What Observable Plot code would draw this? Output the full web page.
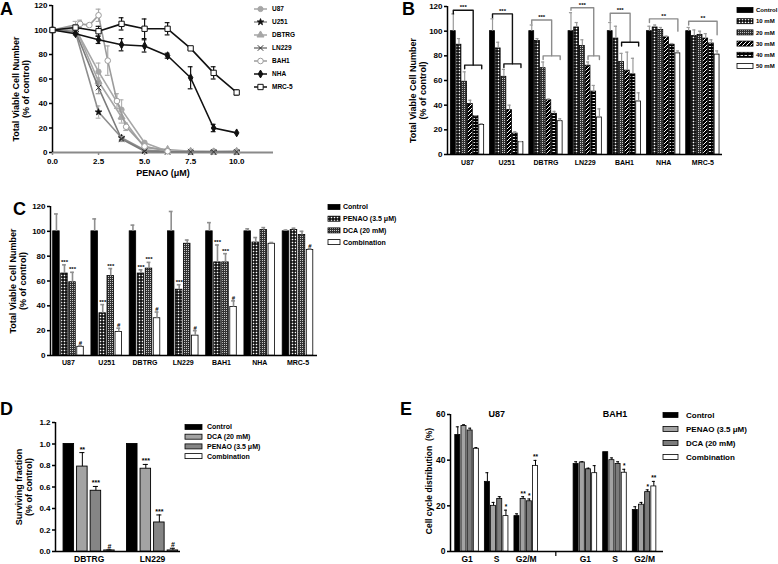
<!DOCTYPE html>
<html><head><meta charset="utf-8">
<script src="https://cdn.jsdelivr.net/npm/d3@7"></script>
<script src="https://cdn.jsdelivr.net/npm/@observablehq/plot@0.6"></script>
<style>
body{margin:0;background:#fff;}
#fig{position:relative;width:778px;height:564px;font-family:"Liberation Sans",Arial,sans-serif;overflow:hidden;background:#fff;}
</style></head><body><div id="fig"></div>
<script>
// ---------------- DATA ----------------
// Panel A
const seriesA = ["U87","U251","DBTRG","LN229","BAH1","NHA","MRC-5"];
const doseA = [0, 1.25, 2.5, 3.75, 5, 6.25, 7.5, 8.75, 10];
const doseBAH1 = [0, 1.5, 2, 2.5, 3, 3.5, 4, 5, 6.25];
const aU87 = [100, 101, 66, 35, 8, 1, 1, 1, 1];
const aU87Err = [0, 3, 7, 8, 1, 0, 0, 0, 0];
const aU251 = [100, 98, 33, 12, 2, 1, 0.5, 0.5, 0.5];
const aU251Err = [0, 2, 5, 2, 0, 0, 0, 0, 0];
const aDBTRG = [100, 102, 58, 29, 4, 2.5, 1, 0.5, 1];
const aDBTRGErr = [0, 5, 3, 5, 1, 0.5, 0, 0, 0];
const aLN229 = [100, 99, 53, 11, 1, 0.5, 0.5, 0.5, 0.5];
const aLN229Err = [0, 2, 5, 2, 0, 0, 0, 0, 0];
const aBAH1 = [100, 105, 104, 112, 75, 42, 21, 5, 1];
const aBAH1Err = [0, 3, 1, 5, 12, 6, 3, 0, 0];
const aNHA = [100, 97, 92, 88, 87, 79, 61, 20, 16];
const aNHAErr = [0, 0, 3, 5, 5, 2, 9, 3, 0];
const aMRC5 = [100, 102, 99, 105, 101, 101, 85, 65, 49];
const aMRC5Err = [0, 0, 4, 5, 8, 5, 1, 5, 2];
const ticksAx = [0, 2.5, 5, 7.5, 10];
const ticksAy = [0, 20, 40, 60, 80, 100, 120];

// Panel B
const cellsB = ["U87","U251","DBTRG","LN229","BAH1","NHA","MRC-5"];
const dosesB = ["Control","10 mM","20 mM","30 mM","40 mM","50 mM"];
const meanB = [
  [100, 89, 59, 41, 31, 24],
  [100, 86, 63, 36, 17, 10],
  [100, 92, 70, 44, 33, 27],
  [100, 103, 88, 72, 51, 30],
  [100, 94, 75, 68, 65, 43],
  [100, 103, 101, 95, 89, 82],
  [100, 96, 97, 94, 90, 81]];
const errB = [
  [14, 5, 8, 3, 0.5, 1],
  [10, 5, 6, 4, 1.5, 0.5],
  [5, 2, 5, 1, 2, 2],
  [15, 4, 5, 3, 5, 7],
  [7, 10, 7, 15, 13, 7],
  [4, 2, 2, 1, 1, 2],
  [3, 5, 3, 4, 3, 3]];
// nested significance brackets (cell index, heights in % units, positions in dose index)
const brCellB = [0, 1, 2, 3, 4];
const brTopB = [117, 114, 109, 119, 114.5];
const brTopDropB = [114, 111, 106, 117, 108];
const brMidB = [3.5, 3.5, 3.5, 4, 3.5];
const brLowB = [72.5, 73.5, 80, 80, 91];
const brLowFromB = [2, 2, 2, 3, 2];
const brLowToB = [5, 5, 5, 5, 5];
const brLabelB = ["***", "***", "***", "***", "***"];
// simple brackets
const sbCellB = [5, 6];
const sbTopB = [110, 108];
const sbLeftB = [107, 105];
const sbRightB = [100, 97];
const sbLabelB = ["**", "**"];

// Panel C
const cellsC = ["U87","U251","DBTRG","LN229","BAH1","NHA","MRC-5"];
const treatC = ["Control","PENAO (3.5 \u03bcM)","DCA (20 mM)","Combination"];
const meanC = [
  [100, 66, 59, 7],
  [100, 34, 64, 19],
  [100, 66, 70, 30],
  [100, 53, 90, 16],
  [100, 75, 75, 39],
  [100, 91, 101, 90],
  [100, 101, 97, 85]];
const errC = [
  [14, 7, 8, 1],
  [10, 7, 6, 3],
  [5, 3, 5, 5],
  [16, 4, 3, 4],
  [7, 14, 7, 5],
  [2, 4, 2, 1],
  [1, 1.5, 3, 1]];
const sigC = [
  ["", "***", "***", "#"],
  ["", "***", "***", "#"],
  ["", "***", "***", "#"],
  ["", "***", "", "#"],
  ["", "***", "***", "#"],
  ["", "", "", ""],
  ["", "", "", "#"]];

// Panel D
const cellsD = ["DBTRG","LN229"];
const treatD = ["Control","DCA (20 mM)","PENAO (3.5 \u03bcM)","Combination"];
const meanD = [[1.0, 0.79, 0.565, 0.01], [1.0, 0.77, 0.27, 0.01]];
const errD = [[0, 0.13, 0.04, 0.005], [0, 0.04, 0.07, 0.02]];
const sigD = [["", "**", "***", "#"], ["", "***", "***", "#"]];
const ticksDy = [0, 0.2, 0.4, 0.6, 0.8, 1.0, 1.2];

// Panel E
const linesE = ["U87","BAH1"];
const phasesE = ["G1","S","G2/M","G1","S","G2/M"];
const slotE = [0, 1, 2, 4, 5, 6];
const titleSlotE = [1, 5];
const treatE = ["Control","PENAO (3.5 \u03bcM)","DCA (20 mM)","Combination"];
const meanE = [
  [51, 55, 53, 45],
  [30.5, 20, 23, 15.5],
  [15.5, 23, 22, 37.5],
  [38.3, 39, 36, 34.3],
  [43.5, 40, 38.3, 34.5],
  [18.2, 20.5, 26, 28.5]];
const errE = [
  [3.6, 0.5, 1, 0.5],
  [4, 1.5, 1, 2.6],
  [1, 1, 1, 2.4],
  [1, 0.3, 0.5, 3.3],
  [0, 1, 1, 1.5],
  [1.4, 1, 1, 2.2]];
const sigE = [
  ["", "", "", ""],
  ["", "", "", "*"],
  ["", "**", "*", "**"],
  ["", "", "", ""],
  ["", "", "", "*"],
  ["", "", "*", "**"]];

// ---------------- STYLES ----------------
const FONT = "'Liberation Sans', Arial, sans-serif";
const baseStyle = {fontFamily: FONT, fontWeight: "bold", fontSize: "8px", overflow: "visible", background: "transparent", color: "black"};
const styleA = {
  "U87":   {stroke: "#a6a6a6", symbol: "circle",   fill: "#a6a6a6", mstroke: "#a6a6a6", err: "#b3b3b3", r: 2.6},
  "U251":  {stroke: "#8e8e8e", symbol: "star",     fill: "#111",    mstroke: "#111",    err: "#b3b3b3", r: 2.0},
  "DBTRG": {stroke: "#a6a6a6", symbol: "triangle", fill: "#a6a6a6", mstroke: "#a6a6a6", err: "#b3b3b3", r: 2.6},
  "LN229": {stroke: "#7c7c7c", symbol: "times",    fill: "none",    mstroke: "#333",    err: "#999",    r: 2.6},
  "BAH1":  {stroke: "#9c9c9c", symbol: "circle",   fill: "white",   mstroke: "#9c9c9c", err: "#aaa",    r: 2.8},
  "NHA":   {stroke: "#111",    symbol: "diamond",  fill: "#111",    mstroke: "#111",    err: "#111",    r: 2.4},
  "MRC-5": {stroke: "#111",    symbol: "square",   fill: "white",   mstroke: "#111",    err: "#111",    r: 3}
};
const fillB = ["#000", "url(#pChk)", "url(#pStip)", "url(#pDiag)", "url(#pDash)", "#fff"];
const fillC = ["#000", "url(#pChk)", "url(#pStip)", "#fff"];
const fillD = ["#000", "#a3a3a3", "#858585", "#fff"];
const fillE = ["#000", "#a3a3a3", "#7c7c7c", "#fff"];

const fig = document.getElementById("fig");
fig.insertAdjacentHTML("beforeend", `<svg width="0" height="0" style="position:absolute"><defs>
<pattern id="pChk" width="3" height="3" patternUnits="userSpaceOnUse"><rect width="3" height="3" fill="#000"/><rect x="0.7" y="0.7" width="1.6" height="1.6" fill="#fff"/></pattern>
<pattern id="pStip" width="2" height="2" patternUnits="userSpaceOnUse"><rect width="2" height="2" fill="#333"/><rect width="1" height="1" fill="#c8c8c8"/></pattern>
<pattern id="pDiag" width="4" height="4" patternUnits="userSpaceOnUse"><rect width="4" height="4" fill="#000"/><path d="M0,4 L4,0 M-1,1 L1,-1 M3,5 L5,3" stroke="#fff" stroke-width="1"/></pattern>
<pattern id="pDash" width="4" height="3" patternUnits="userSpaceOnUse"><rect width="4" height="3" fill="#000"/><rect x="0.5" y="1" width="2.6" height="0.9" fill="#fff"/></pattern>
</defs></svg>`);

function place(el, left, top) {
  el.style.position = "absolute"; el.style.left = left + "px"; el.style.top = top + "px";
  fig.appendChild(el);
}
function yLabel(text, dx, dy, fs) {
  return Plot.text([text], {frameAnchor: "left", rotate: -90, dx, dy, textAnchor: "middle", lineAnchor: "middle", fontSize: fs, fontWeight: "bold", lineHeight: 1.2});
}
function barErr(data, xf, half, stroke, sw) {
  const d = data.filter(r => r.e > 0);
  return [
    Plot.ruleX(d, {x: xf, y1: r => r.v, y2: r => r.v + r.e, stroke, strokeWidth: sw}),
    Plot.ruleY(d, {y: r => r.v + r.e, x1: r => xf(r) - half, x2: r => xf(r) + half, stroke, strokeWidth: sw})
  ];
}

// ---------------- PANEL A ----------------
const xsA = {"U87": doseA, "U251": doseA, "DBTRG": doseA, "LN229": doseA, "BAH1": doseBAH1, "NHA": doseA, "MRC-5": doseA};
const ysA = {"U87": aU87, "U251": aU251, "DBTRG": aDBTRG, "LN229": aLN229, "BAH1": aBAH1, "NHA": aNHA, "MRC-5": aMRC5};
const esA = {"U87": aU87Err, "U251": aU251Err, "DBTRG": aDBTRGErr, "LN229": aLN229Err, "BAH1": aBAH1Err, "NHA": aNHAErr, "MRC-5": aMRC5Err};
const marksA = [
  Plot.ruleY([0], {stroke: "#8a8a8a", strokeWidth: 2}),
  Plot.ruleX([0], {y1: 0, y2: 120, stroke: "#000", strokeWidth: 1.5}),
  Plot.axisY({ticks: ticksAy, tickSize: 3, tickPadding: 2, strokeWidth: 1.5, fontSize: 8, fontWeight: "bold", label: null}),
  Plot.axisX({ticks: ticksAx, tickFormat: d3.format(".1f"), tickSize: 3, tickPadding: 3, stroke: "#8a8a8a", fill: "#000", strokeWidth: 1.5, fontSize: 8, fontWeight: "bold", label: null}),
  yLabel("Total Viable Cell Number\n(% of control)", -32, 10, 9),
  Plot.text(["PENAO (\u03bcM)"], {frameAnchor: "bottom", dy: 21, lineAnchor: "middle", fontSize: 9, fontWeight: "bold"})
];
for (const s of seriesA) {
  const st = styleA[s];
  const data = xsA[s].map((x, i) => ({x, y: ysA[s][i], e: esA[s][i]}));
  const ed = data.filter(d => d.e > 0);
  marksA.push(
    Plot.ruleX(ed, {x: "x", y1: d => d.y - d.e, y2: d => d.y + d.e, stroke: st.err, strokeWidth: 1.2}),
    Plot.ruleY(ed, {y: d => d.y + d.e, x1: d => d.x - 0.13, x2: d => d.x + 0.13, stroke: st.err, strokeWidth: 1.2}),
    Plot.ruleY(ed, {y: d => d.y - d.e, x1: d => d.x - 0.13, x2: d => d.x + 0.13, stroke: st.err, strokeWidth: 1.2}),
    Plot.line(data, {x: "x", y: "y", stroke: st.stroke, strokeWidth: 1.6}),
    Plot.dot(data, {x: "x", y: "y", symbol: st.symbol, r: st.r, fill: st.fill, stroke: st.mstroke, strokeWidth: 1})
  );
}
place(Plot.plot({
  width: 300, height: 185, marginLeft: 52, marginRight: 27, marginTop: 5, marginBottom: 33,
  x: {domain: [0, 12]}, y: {domain: [0, 120]}, style: baseStyle, marks: marksA
}), 0, 0);

// ---------------- PANEL B ----------------
const xB = (g, t) => g + (t - 2.5) * 0.145;
const domBx = [-0.51, 6.5];
const barsB = cellsB.flatMap((c, g) => dosesB.map((d, t) => ({g, t, v: meanB[g][t], e: errB[g][t]})));
const marksB = [
  Plot.ruleY([0], {stroke: "#000", strokeWidth: 1.5}),
  Plot.ruleX([domBx[0]], {y1: 0, y2: 120, stroke: "#000", strokeWidth: 1.5}),
  Plot.axisY({ticks: ticksAy, tickSize: 3, tickPadding: 2, strokeWidth: 1.5, fontSize: 8, fontWeight: "bold", label: null}),
  Plot.axisX({ticks: d3.range(cellsB.length), tickFormat: i => cellsB[i], tickSize: 0, tickPadding: 6, fontSize: 7, fontWeight: "bold", label: null}),
  yLabel("Total Viable Cell Number\n(% of control)", -30, 10, 9)
];
dosesB.forEach((d, t) => {
  marksB.push(Plot.rectY(barsB.filter(r => r.t === t), {x1: r => xB(r.g, r.t) - 0.062, x2: r => xB(r.g, r.t) + 0.062, y1: 0, y2: "v", fill: fillB[t], stroke: "#000", strokeWidth: 0.8}));
});
marksB.push(...barErr(barsB, r => xB(r.g, r.t), 0.04, "#9a9a9a", 1.2));
brCellB.forEach((g, i) => {
  const top = [[0, brTopDropB[i]], [0, brTopB[i]], [brMidB[i], brTopB[i]], [brMidB[i], brLowB[i]]].map(([t, y]) => ({x: xB(g, t), y}));
  const low = [[brLowFromB[i], brLowB[i] - 3], [brLowFromB[i], brLowB[i]], [brLowToB[i], brLowB[i]], [brLowToB[i], brLowB[i] - 3]].map(([t, y]) => ({x: xB(g, t), y}));
  const cTop = (i < 2) ? "#111" : "#8c8c8c";
  const cLow = (i < 2 || i === 4) ? "#111" : "#8c8c8c";
  marksB.push(Plot.line(top, {x: "x", y: "y", stroke: cTop, strokeWidth: 1.4}));
  marksB.push(Plot.line(low, {x: "x", y: "y", stroke: cLow, strokeWidth: 1.4}));
  marksB.push(Plot.text([brLabelB[i]], {x: xB(g, brMidB[i] / 2), y: brTopB[i], dy: -1, lineAnchor: "bottom", fontSize: 6, fontWeight: "bold"}));
});
sbCellB.forEach((g, i) => {
  const pts = [[0, sbLeftB[i]], [0, sbTopB[i]], [5, sbTopB[i]], [5, sbRightB[i]]].map(([t, y]) => ({x: xB(g, t), y}));
  marksB.push(Plot.line(pts, {x: "x", y: "y", stroke: "#8c8c8c", strokeWidth: 1.4}));
  marksB.push(Plot.text([sbLabelB[i]], {x: xB(g, 2.5), y: sbTopB[i], dy: -1, lineAnchor: "bottom", fontSize: 6, fontWeight: "bold"}));
});
place(Plot.plot({
  width: 398, height: 185, marginLeft: 67, marginRight: 56, marginTop: 6, marginBottom: 31,
  x: {domain: domBx}, y: {domain: [0, 120]}, style: baseStyle, marks: marksB
}), 380, 0);

// ---------------- PANEL C ----------------
const xC = (g, t) => g + (t - 1.5) * 0.21;
const domCx = [-0.47, 6.51];
const barsC = cellsC.flatMap((c, g) => treatC.map((d, t) => ({g, t, v: meanC[g][t], e: errC[g][t], s: sigC[g][t]})));
const marksC = [
  Plot.ruleY([0], {stroke: "#000", strokeWidth: 1.5}),
  Plot.ruleX([domCx[0]], {y1: 0, y2: 120, stroke: "#000", strokeWidth: 1.5}),
  Plot.axisY({ticks: ticksAy, tickSize: 3, tickPadding: 2, strokeWidth: 1.5, fontSize: 8, fontWeight: "bold", label: null}),
  Plot.axisX({ticks: d3.range(cellsC.length), tickFormat: i => cellsC[i], tickSize: 0, tickPadding: 5, fontSize: 7, fontWeight: "bold", label: null}),
  yLabel("Total Viable Cell Number\n(% of control)", -33, 0, 9)
];
treatC.forEach((d, t) => {
  marksC.push(Plot.rectY(barsC.filter(r => r.t === t), {x1: r => xC(r.g, r.t) - 0.085, x2: r => xC(r.g, r.t) + 0.085, y1: 0, y2: "v", fill: fillC[t], stroke: "#000", strokeWidth: 0.8}));
});
marksC.push(...barErr(barsC, r => xC(r.g, r.t), 0.05, "#8f8f8f", 1.6));
marksC.push(Plot.text(barsC.filter(r => r.s), {x: r => xC(r.g, r.t), y: r => r.v + r.e, text: "s", dy: -1, lineAnchor: "bottom", fontSize: 6, fontWeight: "bold"}));
place(Plot.plot({
  width: 380, height: 195, marginLeft: 50, marginRight: 63, marginTop: 16, marginBottom: 30,
  x: {domain: domCx}, y: {domain: [0, 120]}, style: baseStyle, marks: marksC
}), 0, 190);

// ---------------- PANEL D ----------------
const xD = (g, t) => g + (t - 1.5) * 0.2134;
const domDx = [-0.53, 1.44];
const barsD = cellsD.flatMap((c, g) => treatD.map((d, t) => ({g, t, v: meanD[g][t], e: errD[g][t], s: sigD[g][t]})));
const marksD = [
  Plot.ruleY([0], {stroke: "#000", strokeWidth: 1.5}),
  Plot.ruleX([domDx[0]], {y1: 0, y2: 1.2, stroke: "#000", strokeWidth: 1.5}),
  Plot.axisY({ticks: ticksDy, tickFormat: d3.format(".1f"), tickSize: 3, tickPadding: 2, strokeWidth: 1.5, fontSize: 8, fontWeight: "bold", label: null}),
  Plot.axisX({ticks: d3.range(cellsD.length), tickFormat: i => cellsD[i], tickSize: 0, tickPadding: 4, fontSize: 8.5, fontWeight: "bold", label: null}),
  yLabel("Surviving fraction\n(% of control)", -32, 0, 9)
];
treatD.forEach((d, t) => {
  marksD.push(Plot.rectY(barsD.filter(r => r.t === t), {x1: r => xD(r.g, r.t) - 0.083, x2: r => xD(r.g, r.t) + 0.083, y1: 0, y2: "v", fill: fillD[t], stroke: "#000", strokeWidth: 0.9}));
});
marksD.push(...barErr(barsD, r => xD(r.g, r.t), 0.04, "#000", 1));
marksD.push(Plot.text(barsD.filter(r => r.s), {x: r => xD(r.g, r.t), y: r => r.v + r.e, text: "s", dy: -1, lineAnchor: "bottom", fontSize: 7, fontWeight: "bold"}));
place(Plot.plot({
  width: 200, height: 164, marginLeft: 55, marginRight: 20, marginTop: 22, marginBottom: 13,
  x: {domain: domDx}, y: {domain: [0, 1.2]}, style: baseStyle, marks: marksD
}), 0, 400);

// ---------------- PANEL E ----------------
const xE = (s, t) => s + (t - 1.5) * 0.209;
const domEx = [-0.56, 6.64];
const barsE = phasesE.flatMap((p, k) => treatE.map((d, t) => ({s: slotE[k], t, v: meanE[k][t], e: errE[k][t], sig: sigE[k][t]})));
const marksE = [
  Plot.ruleY([0], {stroke: "#000", strokeWidth: 1.5}),
  Plot.ruleX([domEx[0]], {y1: 0, y2: 60, stroke: "#000", strokeWidth: 1.5}),
  Plot.axisY({ticks: [0, 20, 40, 60], tickSize: 3, tickPadding: 2, strokeWidth: 1.5, fontSize: 8.5, fontWeight: "bold", label: null}),
  Plot.axisX({ticks: slotE, tickFormat: s => phasesE[slotE.indexOf(s)], tickSize: 0, tickPadding: 4, fontSize: 8.5, fontWeight: "bold", label: null}),
  Plot.axisX({ticks: [3], tickFormat: () => "", tickSize: 5, strokeWidth: 1.2, label: null}),
  yLabel("Cell cycle distribution  (%)", -22, -2, 8.5),
  Plot.text(linesE, {x: (d, i) => titleSlotE[i], y: 60, lineAnchor: "middle", fontSize: 9, fontWeight: "bold"})
];
treatE.forEach((d, t) => {
  marksE.push(Plot.rectY(barsE.filter(r => r.t === t), {x1: r => xE(r.s, r.t) - 0.085, x2: r => xE(r.s, r.t) + 0.085, y1: 0, y2: "v", fill: fillE[t], stroke: "#000", strokeWidth: 0.8}));
});
marksE.push(...barErr(barsE, r => xE(r.s, r.t), 0.05, "#000", 1));
marksE.push(Plot.text(barsE.filter(r => r.sig), {x: r => xE(r.s, r.t), y: r => r.v + r.e, text: "sig", dy: -1, lineAnchor: "bottom", fontSize: 6.5, fontWeight: "bold"}));
place(Plot.plot({
  width: 378, height: 164, marginLeft: 50, marginRight: 115, marginTop: 14, marginBottom: 13,
  x: {domain: domEx}, y: {domain: [0, 60]}, style: baseStyle, marks: marksE
}), 400, 400);

// ---------------- LEGENDS & PANEL LETTERS ----------------
const ov = d3.create("svg").attr("width", 778).attr("height", 564)
  .style("position", "absolute").style("left", "0px").style("top", "0px")
  .style("font-family", FONT).style("font-weight", "bold").style("pointer-events", "none");
// A legend
const symMap = {circle: d3.symbolCircle, star: d3.symbolStar, triangle: d3.symbolTriangle, times: d3.symbolTimes, diamond: d3.symbolDiamond, square: d3.symbolSquare};
seriesA.forEach((s, i) => {
  const st = styleA[s], y = 9 + i * 13;
  ov.append("line").attr("x1", 254).attr("x2", 267).attr("y1", y).attr("y2", y).attr("stroke", st.stroke).attr("stroke-width", 1.5);
  ov.append("path").attr("transform", `translate(260.5,${y})`).attr("d", d3.symbol(symMap[st.symbol], Math.PI * st.r * st.r)())
    .attr("fill", st.fill).attr("stroke", st.mstroke).attr("stroke-width", 1);
  ov.append("text").attr("x", 272).attr("y", y).attr("dy", "0.35em").attr("font-size", 6.5).text(s);
});
function swatches(labels, fills, x0, w, h, tx, y0, step, fs) {
  labels.forEach((lab, i) => {
    const y = y0 + i * step;
    ov.append("rect").attr("x", x0).attr("y", y - h / 2).attr("width", w).attr("height", h).attr("fill", fills[i]).attr("stroke", "#000").attr("stroke-width", 0.8);
    ov.append("text").attr("x", tx).attr("y", y).attr("dy", "0.35em").attr("font-size", fs).text(lab);
  });
}
swatches(dosesB, fillB, 737, 16, 5, 756, 10, 11.2, 6);
swatches(treatC, fillC, 328, 12, 5, 343, 207, 11.7, 7);
swatches(treatD, fillD, 185, 17, 5, 207, 427, 9.7, 7);
swatches(treatE, fillE, 663, 15, 5, 686, 415, 14, 8);
[["A", 0, 15], ["B", 402, 15], ["C", 13, 215], ["D", 0, 415], ["E", 400, 415]].forEach(([l, x, y]) => {
  ov.append("text").attr("x", x).attr("y", y).attr("font-size", 18).text(l);
});
fig.appendChild(ov.node());
</script></body></html>
